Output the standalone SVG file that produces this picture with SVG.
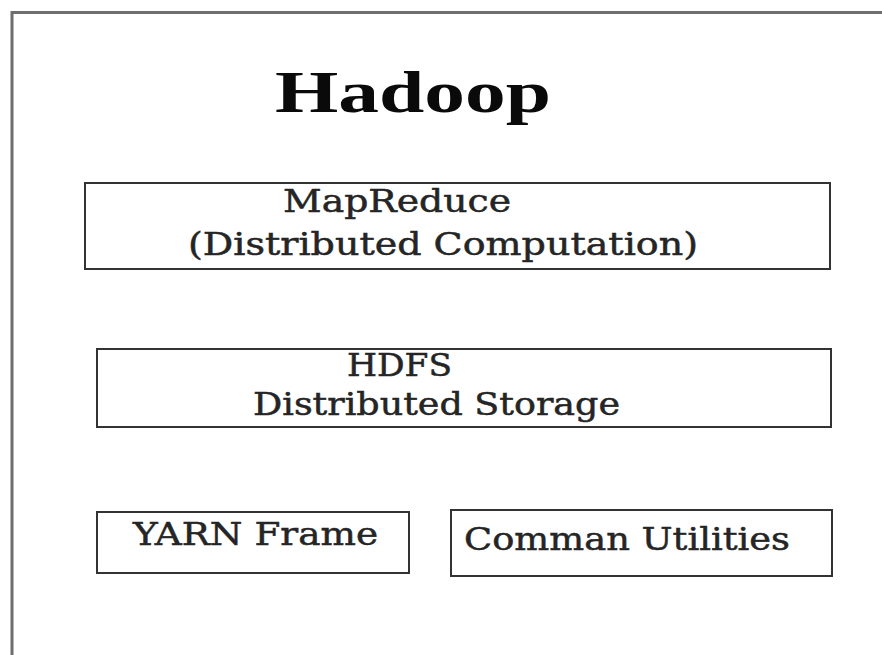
<svg xmlns="http://www.w3.org/2000/svg" width="882" height="655" viewBox="0 0 882 655">
<style>
.frame{fill:none;stroke:#6e6e6e;stroke-width:3}
.box{fill:#fff;stroke:#333;stroke-width:2}
.t{font-family:"DejaVu Serif","Liberation Serif",serif;font-size:32px;fill:#252525;stroke:#252525;stroke-width:0.5}
.title{font-family:"Liberation Serif","DejaVu Serif",serif;font-size:60px;font-weight:bold;fill:#0a0a0a}
</style>
<rect width="882" height="655" fill="#fff"/>
<path class="frame" d="M12,655 V12.5 H882"/>
<text class="title" x="275" y="112" textLength="276" lengthAdjust="spacingAndGlyphs">Hadoop</text>
<g id="mapreduce">
<rect class="box" x="85" y="183" width="745" height="86"/>
<text class="t" x="283" y="212" textLength="228" lengthAdjust="spacingAndGlyphs">MapReduce</text>
<text class="t" x="188" y="255" textLength="510" lengthAdjust="spacingAndGlyphs">(Distributed Computation)</text>
</g>
<g id="hdfs">
<rect class="box" x="97" y="349" width="734" height="78"/>
<text class="t" x="347" y="376" textLength="105" lengthAdjust="spacingAndGlyphs">HDFS</text>
<text class="t" x="253" y="415" textLength="367" lengthAdjust="spacingAndGlyphs">Distributed Storage</text>
</g>
<g id="yarn">
<rect class="box" x="97" y="512" width="312" height="61"/>
<text class="t" x="133" y="545" textLength="245" lengthAdjust="spacingAndGlyphs">YARN Frame</text>
</g>
<g id="common">
<rect class="box" x="451" y="510" width="381" height="66"/>
<text class="t" x="464" y="550" textLength="326" lengthAdjust="spacingAndGlyphs">Comman Utilities</text>
</g>
<g id="connectors"></g>
</svg>
